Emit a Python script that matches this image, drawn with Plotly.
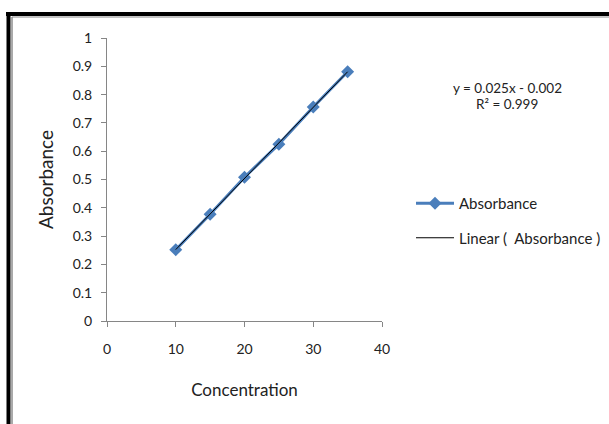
import numpy as np
import plotly.graph_objects as go

concentration = [10, 15, 20, 25, 30, 35]
absorbance = [0.252, 0.377, 0.508, 0.625, 0.756, 0.881]
x_ticks = [0, 10, 20, 30, 40]
y_ticks = [0, 0.1, 0.2, 0.3, 0.4, 0.5, 0.6, 0.7, 0.8, 0.9, 1]

W, H = 609, 424
L, R, T, B = 107, 382, 38, 321

slope, intercept = np.polyfit(concentration, absorbance, 1)
fit_x = [concentration[0], concentration[-1]]
fit_y = [slope * v + intercept for v in fit_x]

font = "Lato, 'Open Sans', sans-serif"
blue = "#4a7ebb"

fig = go.Figure()
fig.add_trace(go.Scatter(
    x=concentration, y=absorbance, mode="lines+markers", name="Absorbance",
    line=dict(color=blue, width=3),
    marker=dict(symbol="diamond", size=10, color=blue),
    legendgroup="a",
))
fig.add_trace(go.Scatter(
    x=fit_x, y=fit_y, mode="lines", name="Linear (  Absorbance )",
    line=dict(color="black", width=1),
    legendgroup="b",
))

def px(xp):
    return (xp - L) / (R - L)

def py(yp):
    return (B - yp) / (B - T)

shapes = [
    dict(type="line", xref="paper", yref="paper", x0=px(6), x1=px(W + 5), y0=py(14), y1=py(14),
         line=dict(color="black", width=4)),
    dict(type="line", xref="paper", yref="paper", x0=px(8.5), x1=px(8.5), y0=py(12), y1=py(H + 5),
         line=dict(color="black", width=4)),
    dict(type="line", xref="paper", yref="paper", x0=px(12), x1=px(12), y0=py(17), y1=py(H + 5),
         line=dict(color="#555", width=1)),
    dict(type="line", xref="paper", yref="paper", x0=px(12), x1=px(W + 5), y0=py(17), y1=py(17),
         line=dict(color="#888", width=1)),
]

fig.update_layout(
    width=W, height=H,
    margin=dict(l=L, r=W - R, t=T, b=H - B, autoexpand=False),
    paper_bgcolor="white", plot_bgcolor="white",
    font=dict(family=font, size=13, color="#222"),
    showlegend=True,
    legend=dict(x=px(411), y=py(187), xanchor="left", yanchor="top",
                font=dict(size=15, color="#222"), tracegroupgap=12,
                traceorder="grouped", bgcolor="rgba(0,0,0,0)", itemwidth=38),
    shapes=shapes,
    annotations=[
        dict(xref="paper", yref="paper", x=px(507), y=py(88), xanchor="center", yanchor="middle",
             text="y = 0.025x - 0.002", showarrow=False, font=dict(size=13.5, color="#222")),
        dict(xref="paper", yref="paper", x=px(507), y=py(104), xanchor="center", yanchor="middle",
             text="R² = 0.999", showarrow=False, font=dict(size=13.5, color="#222")),
    ],
    xaxis=dict(range=[0, 40], tickvals=x_ticks, ticks="outside", ticklen=5, tickcolor="#868686",
               showline=True, linecolor="#868686", linewidth=1, showgrid=False, zeroline=False,
               tickfont=dict(size=14), fixedrange=True, ticklabelstandoff=10,
               title=dict(text="Concentration", font=dict(size=17), standoff=28)),
    yaxis=dict(range=[0, 1], tickvals=y_ticks, ticktext=[f"{v:g}" for v in y_ticks],
               ticks="outside", ticklen=5, tickcolor="#868686",
               showline=True, linecolor="#868686", linewidth=1, showgrid=False, zeroline=False,
               tickfont=dict(size=14), fixedrange=True, ticklabelstandoff=6,
               title=dict(text="Absorbance", font=dict(size=19), standoff=14)),
)

fig.write_html("out.html", config={"displayModeBar": False},
               post_script="document.body.style.margin='0';")
